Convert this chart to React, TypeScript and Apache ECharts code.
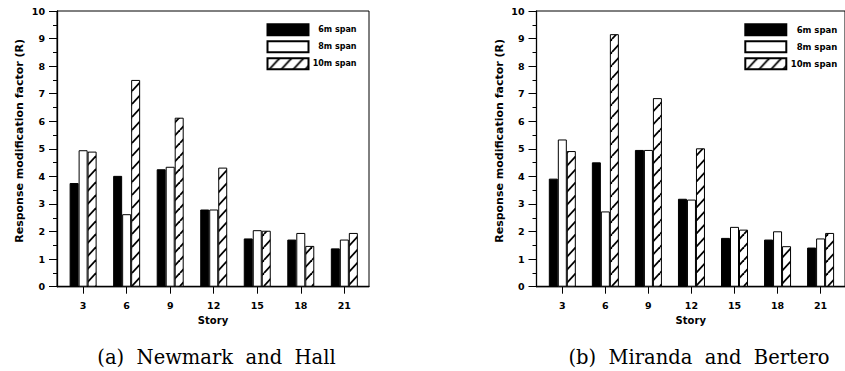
import React, { useEffect, useRef } from "react";
import * as echarts from "echarts";

const stories = [3, 6, 9, 12, 15, 18, 21];
const seriesNames = ["6m span", "8m span", "10m span"];
const nh6 = [3.76, 4.02, 4.26, 2.8, 1.75, 1.71, 1.39];
const nh8 = [4.95, 2.63, 4.35, 2.8, 2.05, 1.95, 1.71];
const nh10 = [4.9, 7.5, 6.13, 4.32, 2.03, 1.48, 1.95];
const mb6 = [3.92, 4.51, 4.96, 3.19, 1.77, 1.71, 1.42];
const mb8 = [5.34, 2.73, 4.96, 3.16, 2.17, 2.01, 1.75];
const mb10 = [4.92, 9.16, 6.84, 5.02, 2.07, 1.47, 1.95];
const yTitle = "Response modification factor (R)";
const xTitle = "Story";
const captions = ["(a)  Newmark  and  Hall", "(b)  Miranda  and  Bertero"];

const FONT = "DejaVu Sans";

function makeHatch() {
  const c = document.createElement("canvas");
  c.width = 12;
  c.height = 13;
  const ctx = c.getContext("2d")!;
  ctx.fillStyle = "#fff";
  ctx.fillRect(0, 0, 12, 13);
  ctx.strokeStyle = "#000";
  ctx.lineWidth = 1.8;
  for (const dx of [-12, 0, 12]) {
    ctx.beginPath();
    ctx.moveTo(dx, 13);
    ctx.lineTo(dx + 12, 0);
    ctx.stroke();
  }
  return c;
}

export default function App() {
  const ref = useRef<HTMLDivElement>(null);
  useEffect(() => {
    if (!ref.current) return;
    const chart = echarts.init(ref.current, null, { renderer: "svg" });
    const hatch = { image: makeHatch(), repeat: "repeat", imageWidth: 12, imageHeight: 13 };
    const fills: any[] = ["#000", "#fff", hatch];

    const grids = [
      { left: 57, top: 11, width: 312, height: 275.7 },
      { left: 536.5, top: 11, width: 310, height: 275.7 },
    ];
    const axisText = { color: "#000", fontFamily: FONT, fontWeight: "bold" };

    const xAxes = grids.map((_, gi) => ({
      gridIndex: gi,
      type: "value",
      min: 1.2,
      max: 22.7,
      axisLine: { show: true, onZero: false, lineStyle: { color: "#000", width: 1.3 } },
      axisTick: { show: true, inside: false, length: 7, customValues: stories, lineStyle: { color: "#000", width: 1 } },
      axisLabel: { ...axisText, fontSize: 9.5, margin: 14, customValues: stories },
      splitLine: { show: false },
      name: xTitle,
      nameLocation: "middle",
      nameGap: 25,
      nameTextStyle: { ...axisText, fontSize: 10 },
    }));
    const yAxes = grids.map((_, gi) => ({
      gridIndex: gi,
      type: "value",
      min: 0,
      max: 10,
      interval: 1,
      axisLine: { show: true, lineStyle: { color: "#000", width: 1.3 } },
      axisTick: { show: true, inside: false, length: 8, lineStyle: { color: "#000", width: 1 } },
      minorTick: { show: true, splitNumber: 2, length: 4, lineStyle: { color: "#000", width: 1 } },
      axisLabel: { ...axisText, fontSize: 9.5, margin: 12 },
      splitLine: { show: false },
      minorSplitLine: { show: false },
      name: yTitle,
      nameLocation: "middle",
      nameRotate: 90,
      nameGap: 32,
      nameTextStyle: { ...axisText, fontSize: 11, padding: [0, 0, 0, 16] },
    }));

    const dataSets = [
      [nh6, nh8, nh10],
      [mb6, mb8, mb10],
    ];
    const series: any[] = [];
    dataSets.forEach((sets, gi) => {
      sets.forEach((vals, si) => {
        series.push({
          type: "bar",
          name: seriesNames[si],
          xAxisIndex: gi,
          yAxisIndex: gi,
          barWidth: 9,
          barGap: "0%",
          data: stories.map((s, i) => [s, vals[i]]),
          itemStyle: { color: fills[si], borderColor: "#000", borderWidth: 1 },
        });
      });
    });

    const legendPos = [
      { left: 261.5, fs: 8, w: 43 },
      { left: 739.3, fs: 8.5, w: 46 },
    ];
    const legends = legendPos.map((p) => ({
      left: p.left,
      top: 18.3,
      orient: "vertical",
      icon: "rect",
      itemWidth: 41,
      itemHeight: 11,
      itemGap: 4,
      selectedMode: false,
      data: seriesNames,
      formatter: (n: string) => `{t|${n}}`,
      textStyle: {
        rich: {
          t: { width: p.w, align: "right", fontSize: p.fs, fontFamily: FONT, fontWeight: "bold", color: "#000" },
        },
      },
    }));

    chart.setOption({
      animation: false,
      backgroundColor: "#fff",
      grid: grids.map((g) => ({ ...g, show: true, borderColor: "#000", borderWidth: 1, backgroundColor: "transparent" })),
      xAxis: xAxes,
      yAxis: yAxes,
      legend: legends,
      series,
      graphic: [
        {
          type: "text",
          x: 216.5,
          y: 357,
          style: { text: captions[0], fontFamily: "DejaVu Serif", fontSize: 19.5, align: "center", verticalAlign: "middle", fill: "#000" },
        },
        {
          type: "text",
          x: 699,
          y: 357,
          style: { text: captions[1], fontFamily: "DejaVu Serif", fontSize: 19.5, align: "center", verticalAlign: "middle", fill: "#000" },
        },
      ],
    });
    return () => chart.dispose();
  }, []);
  return <div ref={ref} style={{ position: "absolute", left: 0, top: 0, width: 845, height: 371 }} />;
}
